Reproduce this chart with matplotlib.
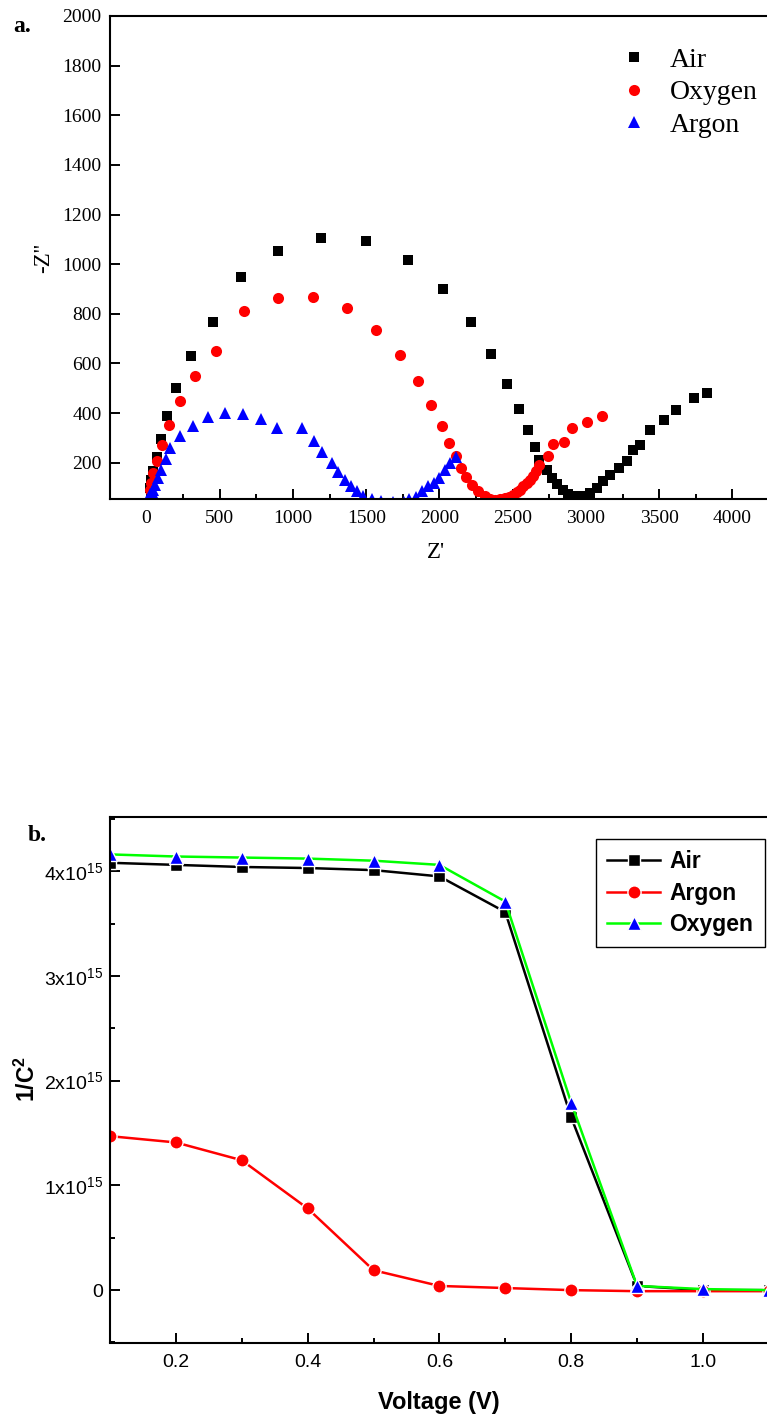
import matplotlib
matplotlib.use("Agg")
import matplotlib.pyplot as plt
from matplotlib import font_manager
from matplotlib.ticker import MultipleLocator, FixedLocator, FuncFormatter

# ---- panel a: Nyquist plot (Z' vs -Z'') ----
air_zr = [22, 30, 45, 72, 95, 136, 204, 302, 450, 643, 898, 1194, 1497, 1786,
          2021, 2212, 2355, 2463, 2544, 2604, 2652, 2681, 2731, 2766, 2800,
          2841, 2879, 2936, 2982, 3027, 3073, 3118, 3164, 3227, 3282, 3319,
          3369, 3437, 3533, 3615, 3740, 3829]
air_zi = [100, 130, 168, 222, 296, 387, 500, 631, 767, 947, 1053, 1105, 1094,
          1018, 902, 769, 639, 519, 417, 333, 264, 213, 172, 139, 116, 92, 76,
          65, 68, 79, 99, 125, 152, 179, 208, 250, 273, 331, 371, 411, 461, 480]

oxy_zr = [20, 30, 45, 72, 106, 152, 227, 331, 473, 666, 894, 1133, 1365, 1566,
          1730, 1852, 1941, 2014, 2066, 2112, 2148, 2183, 2222, 2264, 2310,
          2345, 2378, 2412, 2447, 2476, 2504, 2528, 2549, 2572, 2595, 2616,
          2636, 2658, 2681, 2738, 2777, 2852, 2906, 3007, 3111]
oxy_zi = [90, 120, 159, 206, 273, 353, 447, 548, 649, 812, 865, 868, 822, 736,
          635, 531, 434, 349, 280, 226, 179, 141, 110, 85, 65, 55, 51, 53, 58,
          64, 72, 82, 92, 105, 119, 132, 145, 168, 192, 229, 277, 284, 340,
          363, 387]

arg_zr = [25, 35, 45, 56, 79, 97, 129, 163, 229, 316, 416, 534, 659, 780, 887,
          1058, 1142, 1201, 1263, 1308, 1354, 1393, 1434, 1479, 1536, 1600,
          1680, 1760, 1790, 1838, 1878, 1923, 1960, 1999, 2039, 2072, 2112]
arg_zi = [75, 84, 92, 112, 139, 172, 215, 260, 306, 349, 384, 400, 396, 376,
          340, 340, 289, 243, 199, 161, 132, 105, 85, 68, 55, 46, 40, 42, 54,
          61, 85, 108, 120, 138, 169, 200, 223]

# ---- panel b: Mott-Schottky (1/C^2 vs V) ----
voltage = [0.1, 0.2, 0.3, 0.4, 0.5, 0.6, 0.7, 0.8, 0.9, 1.0, 1.1]
air_c2 = [4.08, 4.06, 4.04, 4.03, 4.01, 3.95, 3.61, 1.65, 0.04, 0.0, 0.0]
argon_c2 = [1.47, 1.41, 1.24, 0.78, 0.19, 0.04, 0.02, 0.0, -0.01, -0.01, -0.01]
oxygen_c2 = [4.16, 4.14, 4.13, 4.12, 4.10, 4.06, 3.71, 1.79, 0.04, 0.01, 0.0]

zr_ticks = [0, 500, 1000, 1500, 2000, 2500, 3000, 3500, 4000]
v_ticks = [0.2, 0.4, 0.6, 0.8, 1.0]

names = {f.name for f in font_manager.fontManager.ttflist}
narrow = "Liberation Sans Narrow" if "Liberation Sans Narrow" in names else "Liberation Sans"

plt.rcParams["mathtext.fontset"] = "custom"
plt.rcParams["mathtext.rm"] = "Liberation Sans"
plt.rcParams["mathtext.it"] = "Liberation Sans:italic"
plt.rcParams["mathtext.bf"] = "Liberation Sans:bold"

W, H = 767, 1423
fig = plt.figure(figsize=(W / 100, H / 100), dpi=100)


def box(l, t, r, b):
    return [l / W, 1 - b / H, (r - l) / W, (b - t) / H]


serif = "Liberation Serif"

# panel a
ax1 = fig.add_axes(box(110, 16, 805.6, 499))
ax1.plot(air_zr, air_zi, "s", color="black", ms=7.2, mew=0, label="Air")
ax1.plot(oxy_zr, oxy_zi, "o", color="red", ms=8, mew=0, label="Oxygen")
ax1.plot(arg_zr, arg_zi, "^", color="blue", ms=8.6, mew=0, label="Argon")
ax1.set_xlim(-250, 4500)
ax1.set_ylim(54, 2000)
ax1.xaxis.set_major_locator(FixedLocator(zr_ticks))
ax1.xaxis.set_minor_locator(MultipleLocator(250))
ax1.set_yticks(range(200, 2001, 200))
ax1.tick_params(which="both", direction="in", top=False, right=False, width=1.4,
                labelsize=14, labelfontfamily=serif)
ax1.tick_params(which="major", length=7)
ax1.tick_params(which="minor", length=3.5)
ax1.tick_params(axis="x", pad=8)
ax1.tick_params(axis="y", pad=6)
for s in ax1.spines.values():
    s.set_linewidth(1.5)
ax1.legend(loc="upper left", bbox_to_anchor=(609 / W, 1 - 36 / H),
           bbox_transform=fig.transFigure, frameon=False,
           prop={"family": serif, "size": 20}, handlelength=1.0,
           handletextpad=0.8, labelspacing=0.26, borderaxespad=0)
fig.text(436 / W, 1 - 553 / H, "Z'", family=serif, size=16.5, ha="center", va="center")
fig.text(44 / W, 1 - 258 / H, "-Z''", family=serif, size=16.5, rotation=90,
         ha="center", va="center")
fig.text(22 / W, 1 - 27 / H, "a.", family=serif, size=17, weight="bold",
         ha="center", va="center")

# panel b
ax2 = fig.add_axes(box(110, 816.7, 834.7, 1342.5))
mk = dict(mec="white", mew=1.0, lw=1.8)
ax2.plot(voltage, [v * 1e15 for v in air_c2], "-s", color="black", ms=8.5,
         label="Air", **mk)
ax2.plot(voltage, [v * 1e15 for v in argon_c2], "-o", color="red", ms=9.5,
         label="Argon", **mk)
ax2.plot(voltage, [v * 1e15 for v in oxygen_c2], "-^", color="#00ff00",
         mfc="blue", ms=10.5, label="Oxygen", **mk)
ax2.set_xlim(0.1, 1.2)
ax2.set_ylim(-0.5e15, 4.52e15)
ax2.xaxis.set_major_locator(FixedLocator(v_ticks))
ax2.xaxis.set_minor_locator(MultipleLocator(0.1))
ax2.yaxis.set_major_locator(MultipleLocator(1e15))
ax2.yaxis.set_minor_locator(MultipleLocator(0.5e15))
ax2.xaxis.set_major_formatter(FuncFormatter(lambda v, p: f"{v:.1f}"))
ax2.yaxis.set_major_formatter(FuncFormatter(
    lambda v, p: "0" if abs(v) < 1 else f"{int(round(v / 1e15))}x10$^{{15}}$"))
ax2.tick_params(which="both", direction="in", top=False, right=False, width=1.4,
                labelsize=14, labelfontfamily="Liberation Sans")
ax2.tick_params(which="major", length=7)
ax2.tick_params(which="minor", length=3.5)
ax2.tick_params(axis="x", pad=8)
ax2.tick_params(axis="y", pad=5)
for s in ax2.spines.values():
    s.set_linewidth(1.5)
leg = ax2.legend(loc="upper left", bbox_to_anchor=(596 / W, 1 - 839 / H),
                 bbox_transform=fig.transFigure, frameon=True, fancybox=False,
                 edgecolor="black", framealpha=1,
                 prop={"family": "Liberation Sans", "weight": "bold", "size": 16.5},
                 borderpad=0.5, labelspacing=0.36, handlelength=2.3,
                 handletextpad=0.4, borderaxespad=0)
leg.get_frame().set_linewidth(1.0)
vsize = 19.5 if narrow != "Liberation Sans" else 17
fig.text(439 / W, 1 - 1403 / H, "Voltage (V)", family=narrow, weight="bold",
         size=vsize, ha="center", va="center")
fig.text(27 / W, 1 - 1079 / H, "1/C$^\\mathbf{2}$", family="Liberation Sans",
         weight="bold", size=16.5, rotation=90, ha="center", va="center")
fig.text(37 / W, 1 - 835 / H, "b.", family=serif, size=17, weight="bold",
         ha="center", va="center")

fig.savefig("out.png", dpi=100)
